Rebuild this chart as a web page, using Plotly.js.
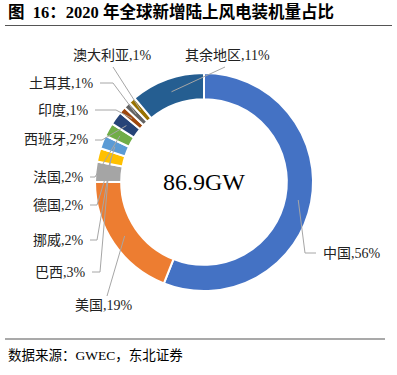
<!DOCTYPE html>
<html><head><meta charset="utf-8">
<script src="https://cdn.plot.ly/plotly-3.0.1.min.js"></script>
<style>html,body{margin:0;padding:0;background:#fff}#c{width:397px;height:375px}</style>
</head><body><div id="c"></div>
<script>
const regions = ['中国','美国','巴西','挪威','德国','法国','西班牙','印度','土耳其','澳大利亚','其余地区'];
const shares = [56,19,3,2,2,2,2,1,1,1,11];
const totalLabel = '86.9GW';
const titleText = '图  16：2020 年全球新增陆上风电装机量占比';
const sourceText = '数据来源：GWEC，东北证券';

const colors = ['#4472C4','#ED7D31','#A5A5A5','#FFC000','#5B9BD5','#70AD47','#264478','#9E480E','#636363','#997300','#255E91'];
const W = 397, H = 375;
const CX = 204, CY = 182, R = 109, HOLE = 0.76;
const font = 'Liberation Serif, Noto Sans CJK SC, serif';
const px = x => x / W, py = y => 1 - y / H;

const place = [
  {x:321, y:253, xa:'left',  elbow:[305,253], end:[316,253]},
  {x:104, y:305, xa:'center', elbow:null, end:[107,296]},
  {x:88,  y:272, xa:'right', elbow:[100,272], end:[92,272]},
  {x:86,  y:240, xa:'right', elbow:[97,240], end:[90,240]},
  {x:86,  y:205, xa:'right', elbow:[97,205], end:[90,205]},
  {x:86,  y:177, xa:'right', elbow:[95,177], end:[90,177]},
  {x:91,  y:140, xa:'right', elbow:[102,140], end:[95,140]},
  {x:91,  y:110, xa:'right', elbow:[116,110], end:[95,110]},
  {x:96,  y:83,  xa:'right', elbow:[113,83], end:[100,83]},
  {x:113, y:55,  xa:'center', elbow:null, end:[113,67]},
  {x:183, y:55,  xa:'left',  elbow:null, end:[225,67]}
];

const total = shares.reduce((a,b)=>a+b,0);
const annotations = [], shapes = [];
let cum = 0;
shares.forEach((v,i)=>{
  const mid = (cum + v/2) / total * 2 * Math.PI; cum += v;
  const rr = R * (1 + HOLE) / 2;
  const ax = CX + rr * Math.sin(mid), ay = CY - rr * Math.cos(mid);
  const p = place[i];
  let path = `M${px(ax)},${py(ay)}`;
  if (p.elbow) path += ` L${px(p.elbow[0])},${py(p.elbow[1])}`;
  path += ` L${px(p.end[0])},${py(p.end[1])}`;
  shapes.push({type:'path', xref:'paper', yref:'paper', path, line:{color:'#A6A6A6', width:1}});
  annotations.push({xref:'paper', yref:'paper', x:px(p.x), y:py(p.y), xanchor:p.xa, yanchor:'middle',
    text: regions[i] + ',' + v + '%', showarrow:false, font:{family:font, size:14, color:'#222'}});
});
annotations.push({xref:'paper', yref:'paper', x:px(CX), y:py(CY), xanchor:'center', yanchor:'middle',
  text: totalLabel, showarrow:false, font:{family:font, size:24, color:'#000'}});
annotations.push({xref:'paper', yref:'paper', x:px(6), y:py(355), xanchor:'left', yanchor:'middle',
  text: sourceText, showarrow:false, font:{family:font, size:13.5, color:'#000'}});
shapes.push({type:'line', xref:'paper', yref:'paper', x0:px(5), x1:px(392), y0:py(25.5), y1:py(25.5), line:{color:'#555', width:1.2}});
shapes.push({type:'line', xref:'paper', yref:'paper', x0:px(5), x1:px(385), y0:py(339), y1:py(339), line:{color:'#555', width:1.2}});

const trace = {
  type:'pie', labels: regions, values: shares, sort:false, direction:'clockwise', rotation:0,
  hole: HOLE, textinfo:'none', hoverinfo:'none',
  marker:{colors, line:{color:'#fff', width:2}},
  domain:{x:[px(CX-R), px(CX+R)], y:[py(CY+R), py(CY-R)]}
};
const layout = {
  width:W, height:H, margin:{l:0,r:0,t:0,b:0}, showlegend:false,
  paper_bgcolor:'#fff', plot_bgcolor:'#fff',
  title:{text:'<b>'+titleText+'</b>', x:px(8), xanchor:'left', y:py(12), yanchor:'middle', font:{family:font, size:16.5, color:'#000'}},
  annotations, shapes
};
Plotly.newPlot('c', [trace], layout, {staticPlot:true});
</script></body></html>
